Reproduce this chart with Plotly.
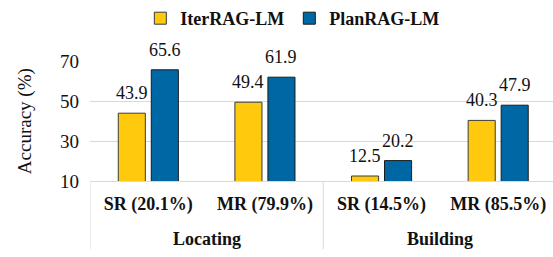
import plotly.graph_objects as go

tasks = ["Locating", "Locating", "Building", "Building"]
subsets = ["SR (20.1%)", "MR (79.9%)", "SR (14.5%)", "MR (85.5%)"]
iter_rag = [43.9, 49.4, 12.5, 40.3]
plan_rag = [65.6, 61.9, 20.2, 47.9]
y_ticks = [10, 30, 50, 70]

FF = "Liberation Serif"
GRID = "#D9D9D9"
W, H = 553, 257
M = dict(l=90, r=0, t=55, b=76)
X_RANGE = [-0.5, 3.47]
BARGAP, BARGROUPGAP = 0.434, 0.18

series = [("IterRAG-LM", iter_rag, "#FFC90E", "#3a3a3a"),
          ("PlanRAG-LM", plan_rag, "#0067A5", "#1a1a1a")]

fig = go.Figure()
for name, vals, col, edge in series:
    fig.add_trace(go.Bar(name=name, x=subsets, y=vals,
                         marker=dict(color=col, line=dict(color=edge, width=1))))

# value labels placed over each bar (offset derived from bar layout settings)
px_per_cat = (W - M["l"] - M["r"]) / (X_RANGE[1] - X_RANGE[0])
slot = px_per_cat * (1 - BARGAP) / len(series)
annotations = []
for k, (name, vals, col, edge) in enumerate(series):
    offset = (k - (len(series) - 1) / 2) * slot
    for cat, v in zip(subsets, vals):
        annotations.append(dict(
            text=f"{v:.1f}", x=cat, y=v, xref="x", yref="y", xshift=offset, yshift=8,
            showarrow=False, xanchor="center", yanchor="bottom",
            font=dict(family=FF, size=18, color="#111"),
        ))

# group labels and dividers derived from the task list
groups = []
for i, t in enumerate(tasks):
    if not groups or groups[-1][0] != t:
        groups.append([t, i, i])
    else:
        groups[-1][2] = i

shapes = []
for name, start, end in groups:
    annotations.append(dict(
        text=f"<b>{name}</b>", x=(start + end) / 2, xref="x", y=-0.48, yref="paper",
        showarrow=False, xanchor="center", yanchor="middle",
        font=dict(family=FF, size=18, color="#111"),
    ))
    shapes.append(dict(type="line", xref="x", yref="paper", x0=start - 0.5, x1=start - 0.5,
                       y0=0, y1=-0.57, line=dict(color=GRID, width=1)))

annotations.append(dict(
    text="Accuracy (%)", x=-0.140, xref="paper", y=0.5, yref="paper", textangle=-90,
    showarrow=False, xanchor="center", yanchor="middle",
    font=dict(family=FF, size=19, color="#111"),
))

fig.update_layout(
    width=W, height=H, margin=M,
    paper_bgcolor="white", plot_bgcolor="white",
    barmode="group", bargap=BARGAP, bargroupgap=BARGROUPGAP,
    font=dict(family=FF, color="#111"),
    legend=dict(orientation="h", x=0.437, xanchor="center", y=1.357, yref="paper",
                yanchor="middle", font=dict(family=FF, size=18, color="#111", weight="bold"),
                itemwidth=30, bgcolor="rgba(0,0,0,0)"),
    showlegend=True,
    shapes=shapes, annotations=annotations,
)
fig.update_yaxes(
    range=[10, 70], tickvals=y_ticks, showgrid=True, gridcolor=GRID, gridwidth=1,
    zeroline=False, showline=False, ticklabelstandoff=10,
    tickfont=dict(family=FF, size=19, color="#111"),
)
fig.update_xaxes(
    type="category", range=X_RANGE,
    showline=True, linecolor=GRID, linewidth=1,
    tickfont=dict(family=FF, size=18, color="#111", weight="bold"),
    ticks="", ticklabelstandoff=6,
)

fig.write_html("out.html", config={"displayModeBar": False},
               post_script="document.body.style.margin='0px';")
